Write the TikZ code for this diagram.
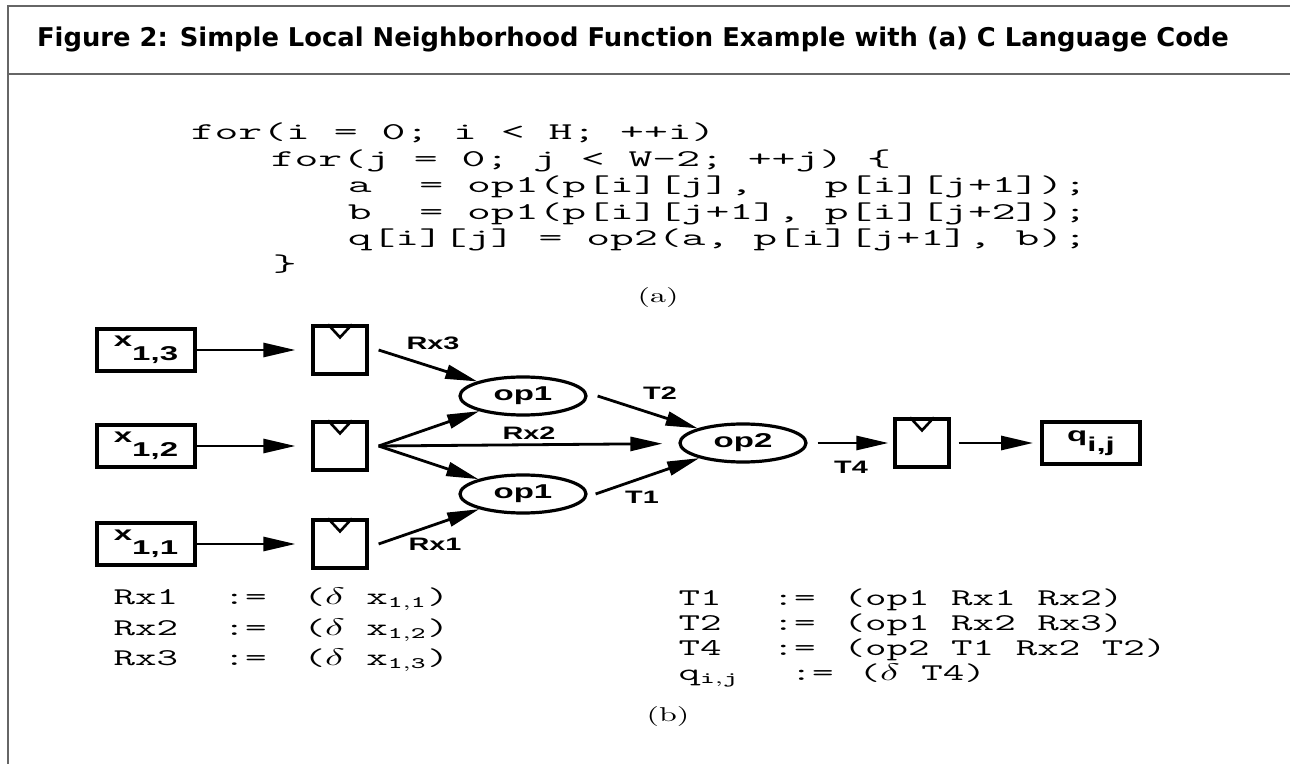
\documentclass[tikz,border=0pt]{standalone}
\usepackage{fontspec}
\setsansfont{Liberation Sans}
\newfontfamily\titlefont{DejaVu Sans}
\usetikzlibrary{arrows.meta, positioning, calc, shapes.geometric}
\newcommand{\stretchx}[1]{\scalebox{1.65}[1]{#1}}

\begin{document}
\begin{tikzpicture}[
    x=0.5pt, y=-0.5pt,
    >={Triangle[length=16pt, width=7pt]},
    frame/.style={draw=black!60, line width=1.3pt},
    src/.style={draw, line width=1.9pt, minimum width=49pt, minimum height=21pt, inner sep=0pt, font=\sffamily\bfseries},
    buf/.style={draw, line width=1.6pt, minimum width=27pt, minimum height=24pt, inner sep=0pt},
    op/.style={draw, ellipse, line width=1.6pt, minimum width=63pt, minimum height=19pt, inner sep=0pt, font=\sffamily\bfseries},
    flow/.style={->, line width=1.4pt},
    wide/.style={xscale=1.6, transform shape},
    lbl/.style={wide, font=\sffamily\bfseries\small, inner sep=0pt},
    code/.style={font=\ttfamily\fontsize{12}{14}\selectfont, anchor=base west, inner sep=0pt, xscale=1.93, transform shape},
    defs/.style={font=\ttfamily\fontsize{12}{14}\selectfont, anchor=base west, inner sep=0pt, xscale=1.74, transform shape}]

  \useasboundingbox (0,0) rectangle (1290,764);

  % Frame and heading
  \draw[frame] (8,764) -- (8,6) -- (1290,6);
  \draw[frame] (8,74) -- (1290,74);
  \node[font=\titlefont\bfseries\fontsize{12.9}{15}\selectfont, anchor=base] (title) at (633,47)
    {Figure 2: Simple Local Neighborhood Function Example with (a) C Language Code};

  % (a) the loop in C
  \node[code] (c1) at (190,140) {for(i\ =\ 0;\ i\ <\ H;\ ++i)};
  \node[code] (c2) at (270,167) {for(j\ =\ 0;\ j\ <\ W-2;\ ++j)\ \{};
  \node[code] (c3) at (347,193) {a\ \ =\ op1(p[i][j],\ \ \ p[i][j+1]);};
  \node[code] (c4) at (347,220) {b\ \ =\ op1(p[i][j+1],\ p[i][j+2]);};
  \node[code] (c5) at (347,246) {q[i][j]\ =\ op2(a,\ p[i][j+1],\ b);};
  \node[code] (c6) at (272,272) {\}};
  \node[wide] (capa) at (658,298) {(a)};

  % (b) the data flow graph
  \node[src] (x3) at (146,350) {\stretchx{x\raisebox{-7pt}{1,3}}};
  \node[src] (x2) at (146,446) {\stretchx{x\raisebox{-7pt}{1,2}}};
  \node[src] (x1) at (146,544) {\stretchx{x\raisebox{-7pt}{1,1}}};
  \node[buf] (b3) at (340,350) {};
  \node[buf] (b2) at (340,446) {};
  \node[buf] (b1) at (340,544) {};
  \node[op] (opA) at (523,396) {\stretchx{op1}};
  \node[op] (opB) at (523,494) {\stretchx{op1}};
  \node[op] (op2) at (743,443) {\stretchx{op2}};
  \node[buf] (bq) at (922,443) {};
  \node[src] (q) at (1091,443) {\stretchx{q\raisebox{-5pt}{i,j}}};
  \foreach \b in {b1, b2, b3, bq}
    \draw[line width=1.3pt] ([xshift=-6pt]\b.north) -- ([yshift=-6.5pt]\b.north) -- ([xshift=6pt]\b.north);

  \foreach \s/\t in {x3/b3, x2/b2, x1/b1}
    \draw[flow, shorten >=8pt] (\s) -- (\t);
  \coordinate (fan) at ([xshift=5pt]b2.east);
  \draw[flow] ([xshift=5pt]b3.east) -- (opA);
  \draw[flow] (fan) -- (opA);
  \draw[flow, shorten >=8pt] (fan) -- (op2);
  \draw[flow] (fan) -- (opB);
  \draw[flow] ([xshift=5pt]b1.east) -- (opB);
  \draw[flow] ([xshift=5pt]opA.east) -- (op2);
  \draw[flow] ([xshift=4pt]opB.east) -- (op2);
  \draw[flow, shorten <=5pt, shorten >=2.5pt] (op2) -- (bq);
  \draw[flow, shorten <=4pt, shorten >=3.5pt] (bq) -- (q);

  \node[lbl] (lRx3) at (433,343) {Rx3};
  \node[lbl] (lRx2) at (529,433) {Rx2};
  \node[lbl] (lRx1) at (435,544) {Rx1};
  \node[lbl] (lT2) at (660,393) {T2};
  \node[lbl] (lT1) at (642,497) {T1};
  \node[lbl] (lT4) at (851,467) {T4};

  % definitions under the graph
  \foreach \y/\n/\e [count=\i] in {604/Rx1/{($\delta$\ x$_{\mathtt{1,1}}$)},
      635/Rx2/{($\delta$\ x$_{\mathtt{1,2}}$)}, 665/Rx3/{($\delta$\ x$_{\mathtt{1,3}}$)}} {
    \node[defs] (dl\i) at (113,\y) {\n};
    \node[defs] (da\i) at (223,\y) {:=};
    \node[defs] (dr\i) at (303,\y) {\e};
  }
  \foreach \y/\n/\e [count=\i] in {605/T1/{(op1\ Rx1\ Rx2)}, 630/T2/{(op1\ Rx2\ Rx3)},
      655/T4/{(op2\ T1\ Rx2\ T2)}} {
    \node[defs] (tl\i) at (678,\y) {\n};
    \node[defs] (ta\i) at (772,\y) {:=};
    \node[defs] (tr\i) at (843,\y) {\e};
  }
  \node[defs] (ql) at (678,680) {q$_{\mathtt{i,j}}$};
  \node[defs] (qa) at (790,680) {:=};
  \node[defs] (qr) at (858,680) {($\delta$\ T4)};
  \node[wide] (capb) at (668,716) {(b)};
\end{tikzpicture}
\end{document}
